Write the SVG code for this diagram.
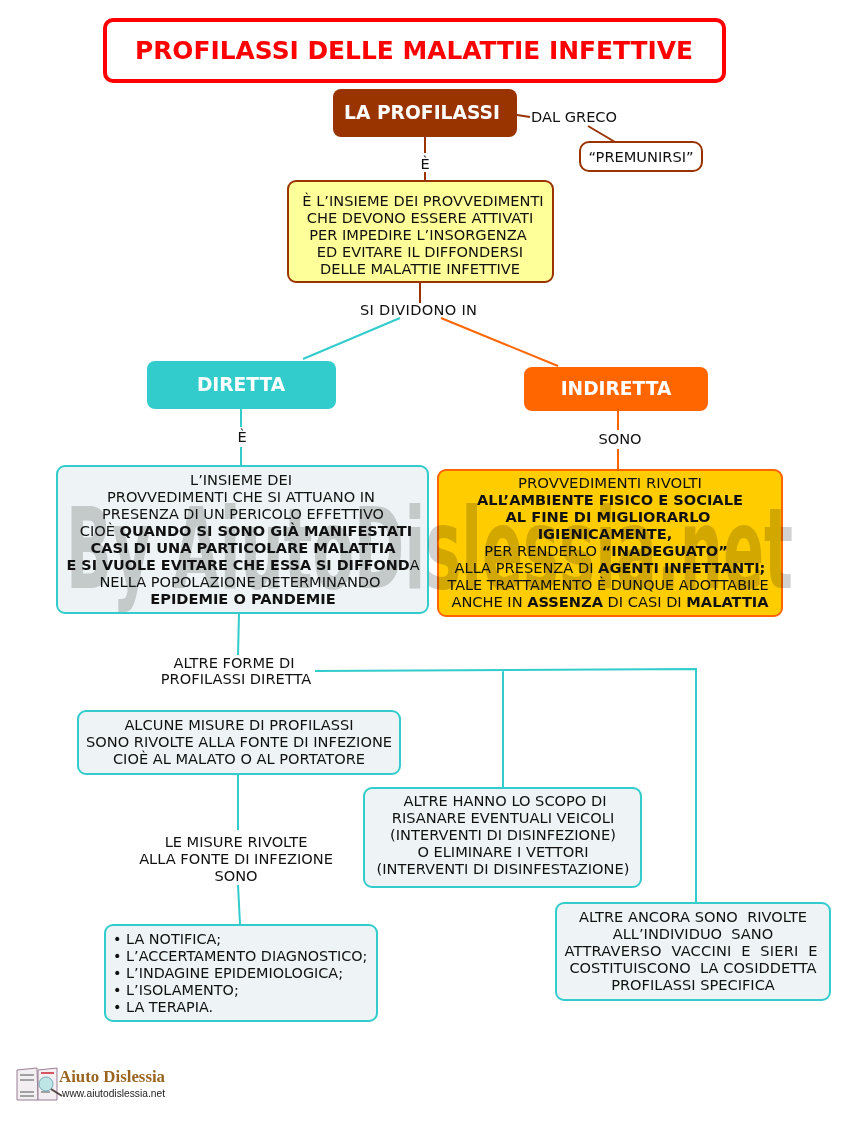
<svg xmlns="http://www.w3.org/2000/svg" width="858" height="1121" viewBox="0 0 858 1121">
<style>
text{font-family:"DejaVu Sans","Liberation Sans",sans-serif;font-size:14.6px;fill:#111;text-anchor:middle;white-space:pre}
.b{font-weight:bold}
tspan.b{font-weight:bold}
.c{fill:none;stroke-width:2}
.br{stroke:#993300}.te{stroke:#33cccc}.or{stroke:#ff6600}
.box{stroke-width:2}
.n{fill:#eef4f6;stroke:#33cccc}
.h{fill:#fff;font-weight:bold;font-size:18.6px}
.l{text-anchor:start;font-size:14.4px}
#wm text{font-size:112px;font-weight:bold;fill:#d2d2d2;mix-blend-mode:multiply;text-anchor:start}
</style>
<rect width="858" height="1121" fill="#fff"/>
<g id="connectors">
<path class="c br" d="M517 115L530 117M588 126L615 142M425 137V153M425 172V181M420 282V303"/>
<path class="c te" d="M303 359L400 318M241 409V427M241 447V466M239 614L238 655M238 774L238 830M238 885L240 924M315 671L696 669V903M503 670V788"/>
<path class="c or" d="M441 318L558 366M618 411V430M618 449V470"/>
</g>
<g id="title"><rect x="105" y="20" width="619" height="61" rx="8" fill="#fff" stroke="#ff0000" stroke-width="4"/><text x="414" y="59" style="font-size:24px;font-weight:bold;fill:#ff0000" textLength="558" lengthAdjust="spacingAndGlyphs">PROFILASSI DELLE MALATTIE INFETTIVE</text></g>
<g id="profilassi"><rect x="333" y="89" width="184" height="48" rx="8" fill="#993300"/><text x="422" y="119" class="h" textLength="156" lengthAdjust="spacingAndGlyphs">LA PROFILASSI</text></g>
<g id="premunirsi"><rect x="580" y="142" width="122" height="29" rx="9" fill="#fff" stroke="#993300" stroke-width="2"/><text x="641" y="162">“PREMUNIRSI”</text></g>
<g id="definizione"><rect x="288" y="181" width="265" height="101" rx="8" fill="#ffff99" stroke="#993300" stroke-width="2"/>
<text x="423" y="206">È L’INSIEME DEI PROVVEDIMENTI</text><text x="420" y="223">CHE DEVONO ESSERE ATTIVATI</text><text x="418" y="240">PER IMPEDIRE L’INSORGENZA</text><text x="420" y="257">ED EVITARE IL DIFFONDERSI</text><text x="420" y="274">DELLE MALATTIE INFETTIVE</text></g>
<g id="diretta"><rect x="147" y="361" width="189" height="48" rx="8" fill="#33cccc"/><text x="241" y="391" class="h">DIRETTA</text></g>
<g id="indiretta"><rect x="524" y="367" width="184" height="44" rx="8" fill="#ff6600"/><text x="616" y="395" class="h">INDIRETTA</text></g>
<g id="box-diretta"><rect class="box n" x="57" y="466" width="371" height="147" rx="8"/></g>
<g id="box-indiretta"><rect x="438" y="470" width="344" height="146" rx="8" fill="#ffcc00" stroke="#ff6600" stroke-width="2"/></g>
<g id="misure"><rect class="box n" x="78" y="711" width="322" height="63" rx="8"/></g>
<g id="veicoli"><rect class="box n" x="364" y="788" width="277" height="99" rx="8"/></g>
<g id="individuo"><rect class="box n" x="556" y="903" width="274" height="97" rx="8"/></g>
<g id="elenco"><rect class="box n" x="105" y="925" width="272" height="96" rx="8"/></g>
<g id="wm"><text x="66" y="588" textLength="727" lengthAdjust="spacingAndGlyphs">By AiutoDislessia.net</text></g>
<g id="testi">
<text x="241" y="485">L’INSIEME DEI</text><text x="241" y="502">PROVVEDIMENTI CHE SI ATTUANO IN</text><text x="243" y="519" textLength="282" lengthAdjust="spacingAndGlyphs">PRESENZA DI UN PERICOLO EFFETTIVO</text>
<text x="246" y="536">CIOÈ <tspan class="b">QUANDO SI SONO GIÀ MANIFESTATI</tspan></text>
<text x="243" y="553" class="b">CASI DI UNA PARTICOLARE MALATTIA</text>
<text x="243" y="570" textLength="353" lengthAdjust="spacingAndGlyphs"><tspan class="b">E SI VUOLE EVITARE CHE ESSA SI DIFFOND</tspan>A</text>
<text x="240" y="587">NELLA POPOLAZIONE DETERMINANDO</text>
<text x="243" y="604" class="b">EPIDEMIE O PANDEMIE</text>
<text x="610" y="488" textLength="184" lengthAdjust="spacingAndGlyphs">PROVVEDIMENTI RIVOLTI</text>
<text x="610" y="505" class="b">ALL’AMBIENTE FISICO E SOCIALE</text>
<text x="608" y="522" class="b">AL FINE DI MIGLIORARLO</text>
<text x="605" y="539" class="b">IGIENICAMENTE,</text>
<text x="606" y="556">PER RENDERLO <tspan class="b">“INADEGUATO”</tspan></text>
<text x="610" y="573">ALLA PRESENZA DI <tspan class="b">AGENTI INFETTANTI;</tspan></text>
<text x="608" y="590" textLength="321" lengthAdjust="spacingAndGlyphs">TALE TRATTAMENTO È DUNQUE ADOTTABILE</text>
<text x="610" y="607">ANCHE IN <tspan class="b">ASSENZA</tspan> DI CASI DI <tspan class="b">MALATTIA</tspan></text>
<text x="239" y="730">ALCUNE MISURE DI PROFILASSI</text><text x="239" y="747">SONO RIVOLTE ALLA FONTE DI INFEZIONE</text><text x="239" y="764">CIOÈ AL MALATO O AL PORTATORE</text>
<text x="505" y="806">ALTRE HANNO LO SCOPO DI</text><text x="503" y="823">RISANARE EVENTUALI VEICOLI</text><text x="503" y="840">(INTERVENTI DI DISINFEZIONE)</text><text x="503" y="857">O ELIMINARE I VETTORI</text><text x="503" y="874">(INTERVENTI DI DISINFESTAZIONE)</text>
<text x="693" y="922">ALTRE ANCORA SONO  RIVOLTE</text><text x="693" y="939">ALL’INDIVIDUO  SANO</text><text x="691" y="956" textLength="253" lengthAdjust="spacing">ATTRAVERSO  VACCINI  E  SIERI  E</text><text x="693" y="973">COSTITUISCONO  LA COSIDDETTA</text><text x="693" y="990">PROFILASSI SPECIFICA</text>
<text class="l" x="113" y="944">• LA NOTIFICA;</text><text class="l" x="113" y="961">• L’ACCERTAMENTO DIAGNOSTICO;</text><text class="l" x="113" y="978">• L’INDAGINE EPIDEMIOLOGICA;</text><text class="l" x="113" y="995">• L’ISOLAMENTO;</text><text class="l" x="113" y="1012">• LA TERAPIA.</text>
<text x="574" y="122">DAL GRECO</text>
<text x="425" y="169">È</text>
<text x="418.500" y="315" textLength="117">SI DIVIDONO IN</text>
<text x="242" y="442">È</text>
<text x="620" y="444">SONO</text>
<text x="234" y="668">ALTRE FORME DI</text><text x="236" y="684">PROFILASSI DIRETTA</text>
<text x="236" y="847">LE MISURE RIVOLTE</text><text x="236" y="864">ALLA FONTE DI INFEZIONE</text><text x="236" y="881">SONO</text>
</g>
<g id="logo">
<path d="M17 1070L37 1068L38 1100L17 1100Z" fill="#f2eef2" stroke="#9a7f95"/>
<path d="M38 1070L57 1068L57 1100L38 1100Z" fill="#f2eef2" stroke="#9a7f95"/>
<path d="M20 1075H34M20 1080H34M20 1092H34M20 1096H34M41 1092H50" stroke="#888" stroke-width="1.500" fill="none"/>
<path d="M41 1073H54" stroke="#c23" stroke-width="1.500"/>
<circle cx="46" cy="1084" r="7" fill="#bfe6e6" stroke="#7ab"/>
<path d="M51 1089L62 1096" stroke="#544" stroke-width="2"/>
<text class="l" x="59" y="1082" style="font-family:'Liberation Serif',serif;font-size:16px;font-weight:bold;fill:#9a6420" textLength="106" lengthAdjust="spacingAndGlyphs">Aiuto Dislessia</text>
<text class="l" x="62" y="1097" style="font-family:'Liberation Sans',sans-serif;font-size:10.500px;fill:#222" textLength="103" lengthAdjust="spacingAndGlyphs">www.aiutodislessia.net</text>
</g>
</svg>
